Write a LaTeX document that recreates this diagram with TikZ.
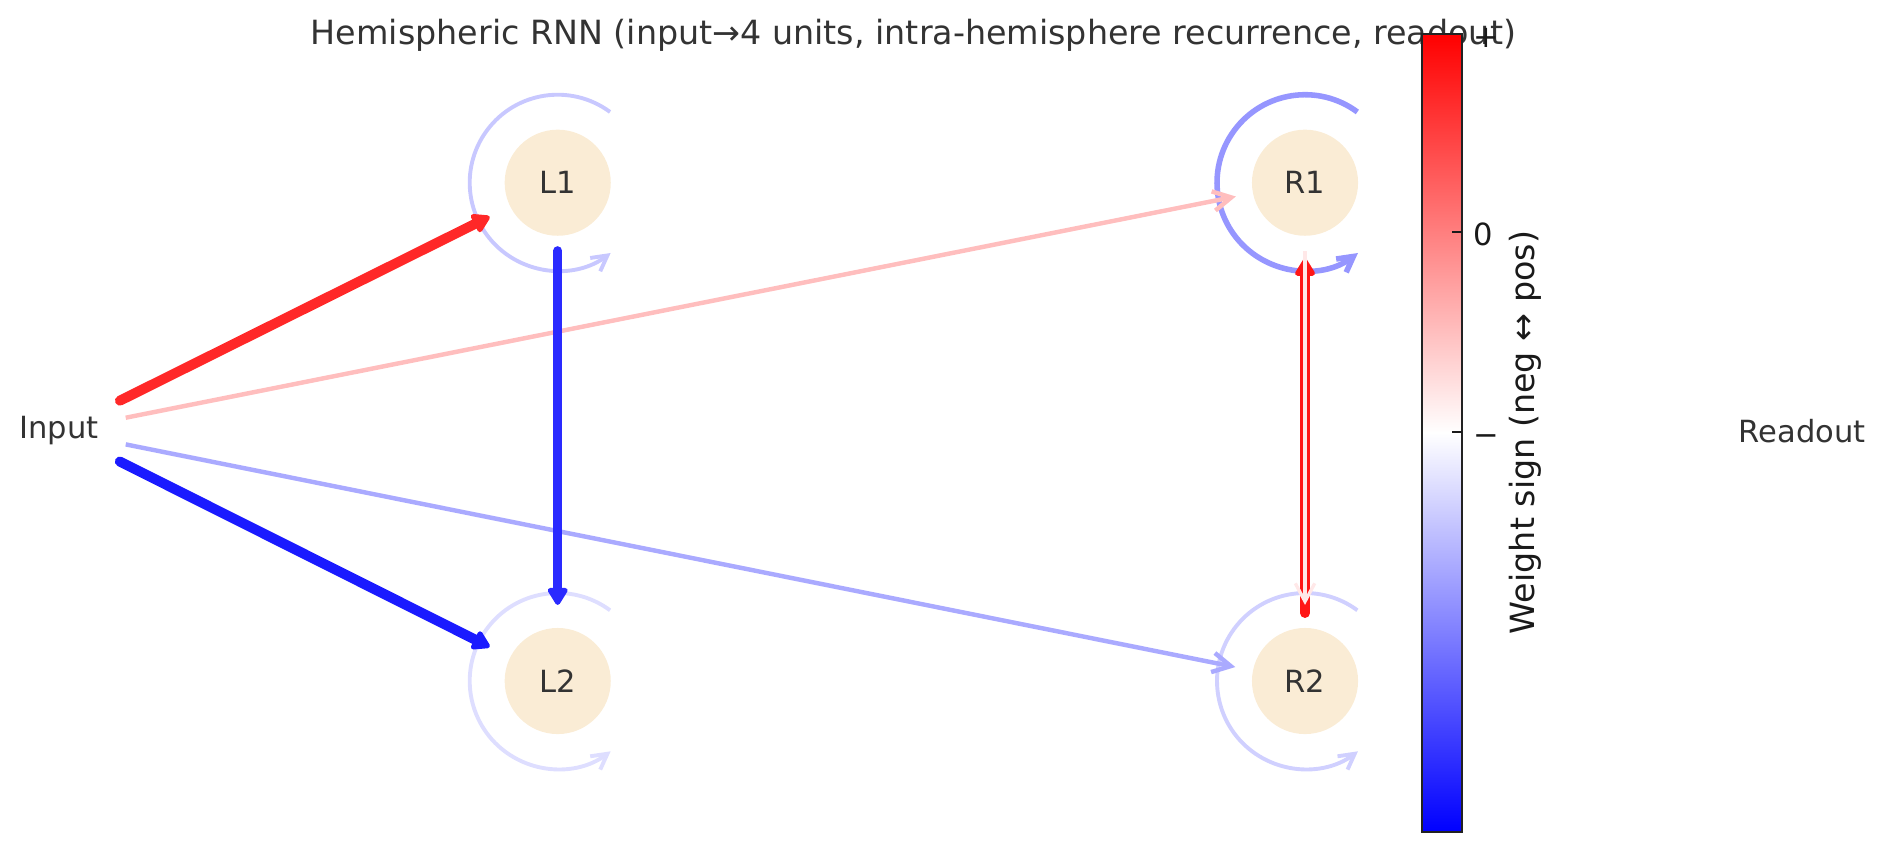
\documentclass[tikz,border=0pt]{standalone}
\usepackage{fontspec}
\setmainfont{DejaVu Sans}
\usetikzlibrary{arrows.meta}
\definecolor{txt}{HTML}{333333}
\definecolor{cbtxt}{HTML}{1A1A1A}
\definecolor{nodefill}{RGB}{250,236,213}
\definecolor{ered}{RGB}{255,40,40}
\definecolor{ered2}{RGB}{255,22,22}
\definecolor{eblue}{RGB}{26,26,255}
\definecolor{eblue2}{RGB}{42,42,255}
\definecolor{epink}{RGB}{255,190,190}
\definecolor{elblue}{RGB}{170,170,255}
\definecolor{ewhite}{RGB}{255,232,232}
\definecolor{loopA}{RGB}{200,200,255}
\definecolor{loopB}{RGB}{222,222,255}
\definecolor{loopC}{RGB}{150,150,255}
\definecolor{loopD}{RGB}{208,208,255}
\begin{document}
\begin{tikzpicture}[x=0.36pt,y=-0.36pt,
  unit/.style={circle, fill=nodefill, minimum size=38.2pt, inner sep=0pt, text=txt, font=\fontsize{11}{13}\selectfont},
  lbl/.style={inner sep=0pt, text=txt, font=\fontsize{11}{13}\selectfont},
  thickedge/.style={line width=3.6pt, line cap=round, -{Triangle[round,length=7pt,width=8pt]}},
  thinedge/.style={line width=1.6pt, -{Straight Barb[length=6.5pt,width=7pt]}},
  selfloop/.style={line width=1.4pt, -{Straight Barb[length=5.5pt,width=6pt]}},
  ticklbl/.style={anchor=base west, inner sep=0pt, text=cbtxt, font=\fontsize{11}{13}\selectfont}]
\useasboundingbox (0,0) rectangle (1886,851);

% title
\node[inner sep=0pt, text=txt, font=\fontsize{12}{14}\selectfont] (title) at (913.5,35.5)
  {Hemispheric RNN (input→4 units, intra-hemisphere recurrence, readout)};

% nodes
\node[unit] (L1) at (557.7,182.7) {L1};
\node[unit] (L2) at (557.7,681) {L2};
\node[unit] (R1) at (1305,182.7) {R1};
\node[unit] (R2) at (1305,681) {R2};
\node[lbl] (In) at (59,431) {Input};
\node[lbl] (Out) at (1802,431) {Readout};

% self loops
\draw[selfloop, loopA] (L1.center) ++(-53.5:88) arc[start angle=-53.5, end angle=-307, radius=88];
\draw[selfloop, loopB] (L2.center) ++(-53.5:88) arc[start angle=-53.5, end angle=-307, radius=88];
\draw[selfloop, loopC, line width=2pt] (R1.center) ++(-53.5:88) arc[start angle=-53.5, end angle=-307, radius=88];
\draw[selfloop, loopD] (R2.center) ++(-53.5:88) arc[start angle=-53.5, end angle=-307, radius=88];

% input edges
\draw[thickedge, ered, shorten <=24.5pt, shorten >=27.4pt] (In.center) -- (L1.center);
\draw[thinedge, epink, shorten <=24.5pt, shorten >=25.4pt] (In.center) -- (R1.center);
\draw[thickedge, eblue, shorten <=24.5pt, shorten >=27.4pt] (In.center) -- (L2.center);
\draw[thinedge, elblue, shorten <=24.5pt, shorten >=25.6pt] (In.center) -- (R2.center);

% recurrent edges
\draw[thickedge, eblue2, line width=3.3pt, shorten <=24.5pt, shorten >=27.4pt] (L1.center) -- (L2.center);
\draw[thickedge, ered2, shorten <=24.5pt, shorten >=27.4pt] (R2.center) -- (R1.center);
\draw[thinedge, ewhite, line width=1.2pt, shorten <=24.5pt, shorten >=27.4pt] (R1.center) -- (R2.center);

% colorbar
\shade[bottom color=white, top color=red] (1422,34) rectangle (1462,433);
\shade[bottom color=blue, top color=white] (1422,432.5) rectangle (1462,832);
\draw[line width=1pt, draw={rgb,255:red,34;green,34;blue,34}] (1422,34) rectangle (1462,832);
\draw[line width=0.9pt, draw=cbtxt] (1452,232) -- (1462,232);
\draw[line width=0.9pt, draw=cbtxt] (1452,432) -- (1462,432);
\node[ticklbl] (tplus) at (1473,47) {+};
\node[ticklbl] (tzero) at (1473,245) {0};
\node[ticklbl] (tminus) at (1473,445) {−};
\node[inner sep=0pt, rotate=90, text=cbtxt, font=\fontsize{12}{14}\selectfont] (cblabel) at (1525,432.5)
  {Weight sign (neg ↔ pos)};
\end{tikzpicture}
\end{document}
